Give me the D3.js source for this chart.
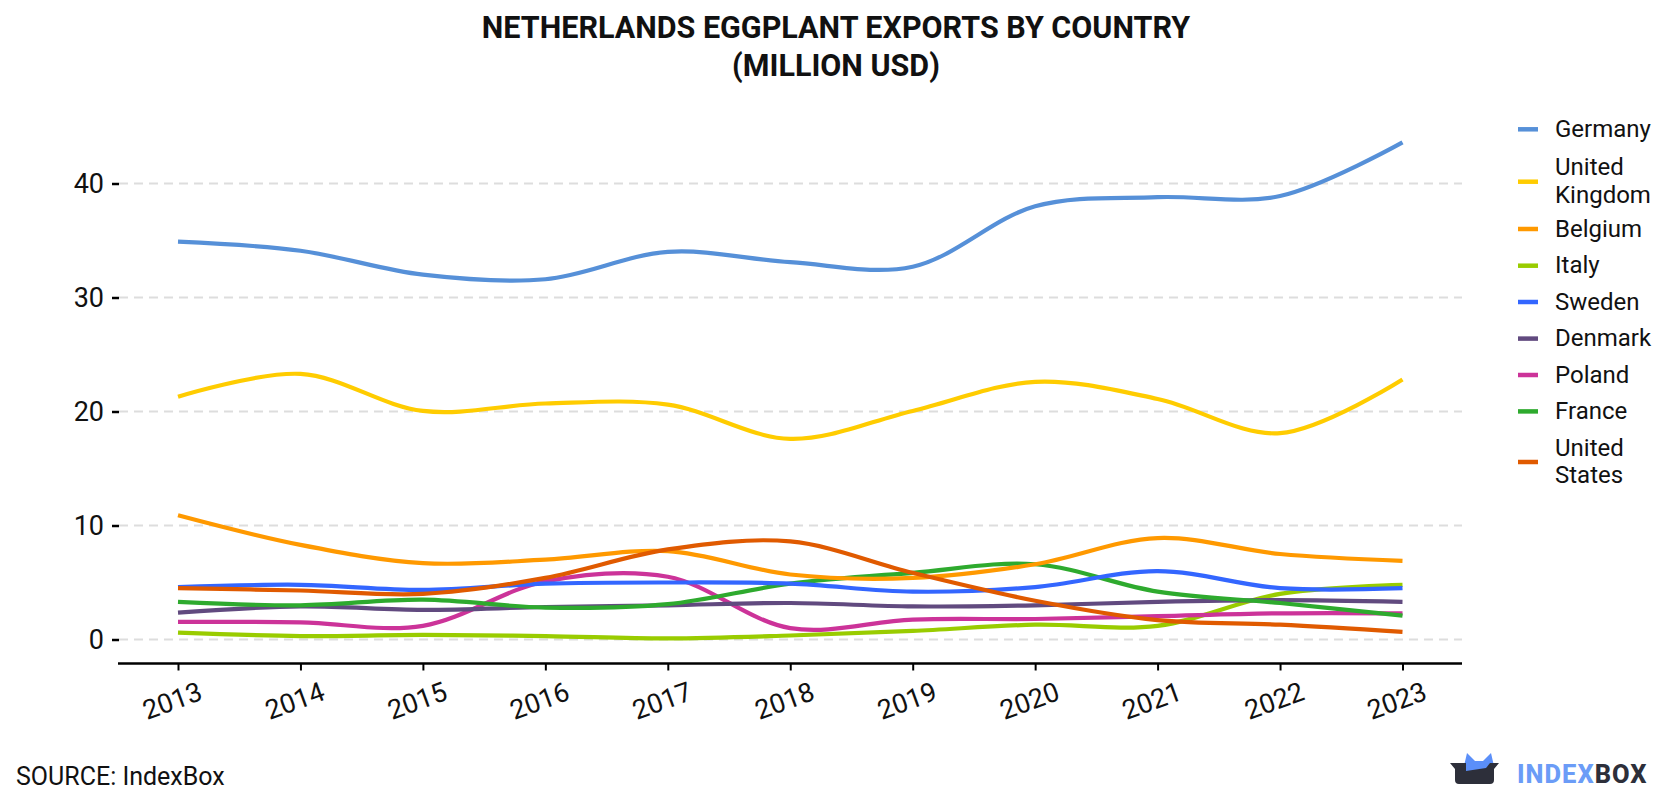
<!DOCTYPE html>
<html><head><meta charset="utf-8">
<script src="https://cdn.jsdelivr.net/npm/d3@7"></script>
<style>
html,body{margin:0;padding:0;background:#fff;}
text{font-family:Roboto,"Noto Sans",sans-serif;}
</style></head>
<body>
<svg id="chart" width="1680" height="800"></svg>
<script>
const years = [2013,2014,2015,2016,2017,2018,2019,2020,2021,2022,2023];
const yTicks = [0,10,20,30,40];
const seriesNames = ["Germany","United Kingdom","Belgium","Italy","Sweden","Denmark","Poland","France","United States"];
const legendLines = [["Germany"],["United","Kingdom"],["Belgium"],["Italy"],["Sweden"],["Denmark"],["Poland"],["France"],["United","States"]];
const colors = ["#5690d8","#ffcc00","#ff9900","#99cc00","#3366ff","#614a7f","#cc3399","#2eaa2e","#e05a00"];
const germany = [34.9,34.1,32.0,31.6,34.0,33.1,32.7,38.0,38.8,38.9,43.6];
const unitedKingdom = [21.3,23.3,20.05,20.7,20.6,17.6,20.05,22.6,21.1,18.1,22.8];
const belgium = [10.9,8.3,6.7,7.0,7.75,5.7,5.4,6.6,8.9,7.5,6.9];
const italy = [0.6,0.3,0.4,0.3,0.1,0.35,0.75,1.3,1.2,4.0,4.8];
const sweden = [4.6,4.8,4.35,4.9,5.0,4.9,4.2,4.6,6.0,4.5,4.5];
const denmark = [2.35,2.9,2.6,2.85,3.0,3.2,2.9,3.0,3.3,3.45,3.3];
const poland = [1.55,1.5,1.2,5.1,5.5,1.0,1.75,1.8,2.05,2.3,2.3];
const france = [3.3,3.0,3.5,2.8,3.1,4.9,5.85,6.6,4.2,3.2,2.1];
const unitedStates = [4.5,4.3,4.0,5.4,7.9,8.6,5.85,3.4,1.7,1.3,0.67];
const allSeries = [germany,unitedKingdom,belgium,italy,sweden,denmark,poland,france,unitedStates];

const svg = d3.select("#chart");
const x = d3.scaleLinear().domain([2013,2023]).range([178,1402.5]);
const y = d3.scaleLinear().domain([0,40]).range([639.5,183.5]);

// title
const title = svg.append("text").attr("x",836).attr("text-anchor","middle")
  .style("font-weight","700").style("font-size","30.5px").attr("fill","#111");
title.append("tspan").attr("x",836).attr("y",38).text("NETHERLANDS EGGPLANT EXPORTS BY COUNTRY");
title.append("tspan").attr("x",836).attr("y",76).text("(MILLION USD)");

// gridlines
svg.append("g").selectAll("line").data(yTicks).join("line")
  .attr("x1",119).attr("x2",1462).attr("y1",d=>y(d)).attr("y2",d=>y(d))
  .attr("stroke","#dddddd").attr("stroke-width",2).attr("stroke-dasharray","9,6");

// y axis
const yAxis = svg.append("g").attr("transform","translate(119,0)")
  .call(d3.axisLeft(y).tickValues(yTicks).tickSize(7).tickPadding(8));
yAxis.select(".domain").remove();
yAxis.selectAll(".tick line").attr("stroke","#000").attr("stroke-width",2.5);
yAxis.selectAll(".tick text").style("font-size","27px").attr("fill","#111").style("font-family","Roboto, sans-serif");

// x axis
const xAxis = svg.append("g").attr("transform","translate(0,663.5)")
  .call(d3.axisBottom(x).tickValues(years).tickFormat(d3.format("d")).tickSize(7).tickSizeOuter(0));
xAxis.select(".domain").attr("d","M118,0H1462").attr("stroke","#000").attr("stroke-width",2.5);
xAxis.selectAll(".tick line").attr("stroke","#000").attr("stroke-width",2);
xAxis.selectAll(".tick text").style("font-size","27px").attr("fill","#111").style("font-family","Roboto, sans-serif")
  .attr("text-anchor","middle").attr("y",0).attr("dy",0)
  .attr("transform","translate(-3,46) rotate(-20)");

// lines
const line = d3.line().x((d,i)=>x(years[i])).y(d=>y(d)).curve(d3.curveCatmullRom.alpha(0.5));
const order = [3,6,5,7,4,2,8,1,0];
svg.append("g").selectAll("path").data(order).join("path")
  .attr("d",i=>line(allSeries[i])).attr("fill","none")
  .attr("stroke",i=>colors[i]).attr("stroke-width",4.2).attr("stroke-linecap","butt");

// legend
const legendY = [129.3,181.7,229,265.7,302,338.6,375,411.4,462];
const lg = svg.append("g");
legendLines.forEach((lines,i)=>{
  const cy = legendY[i];
  lg.append("line").attr("x1",1518).attr("x2",1538).attr("y1",cy).attr("y2",cy)
    .attr("stroke",colors[i]).attr("stroke-width",4.5);
  const t = lg.append("text").attr("x",1555).style("font-size","24px").attr("fill","#111");
  if (lines.length === 1) {
    t.append("tspan").attr("x",1555).attr("y",cy + 7.5).text(lines[0]);
  } else {
    t.append("tspan").attr("x",1555).attr("y",cy - 6.5).text(lines[0]);
    t.append("tspan").attr("x",1555).attr("y",cy + 21).text(lines[1]);
  }
});

// source
svg.append("text").attr("x",16).attr("y",785).style("font-size","25px").attr("fill","#111").text("SOURCE: IndexBox");

// logo
const logo = svg.append("g");
logo.append("path").attr("d","M1464,766 L1467,753 L1475,761 L1483,761 L1491,753 L1494,766 Z").attr("fill","#5b8ff9");
logo.append("path").attr("d","M1450,763 L1499,763 L1494,769 L1494,780 Q1494,784 1490,784 L1459,784 Q1455,784 1455,780 L1455,769 Z").attr("fill","#2d2f3a");
logo.append("path").attr("d","M1466,763 L1490,763 L1486,768 L1466,771 Z").attr("fill","#5b8ff9");
const lt = logo.append("text").attr("x",1517).attr("y",783).style("font-size","25.5px").style("font-weight","800").style("letter-spacing","1px");
lt.append("tspan").attr("fill","#6b9cf7").text("INDEX");
lt.append("tspan").attr("fill","#2d2f3a").text("BOX");
</script>
</body></html>
